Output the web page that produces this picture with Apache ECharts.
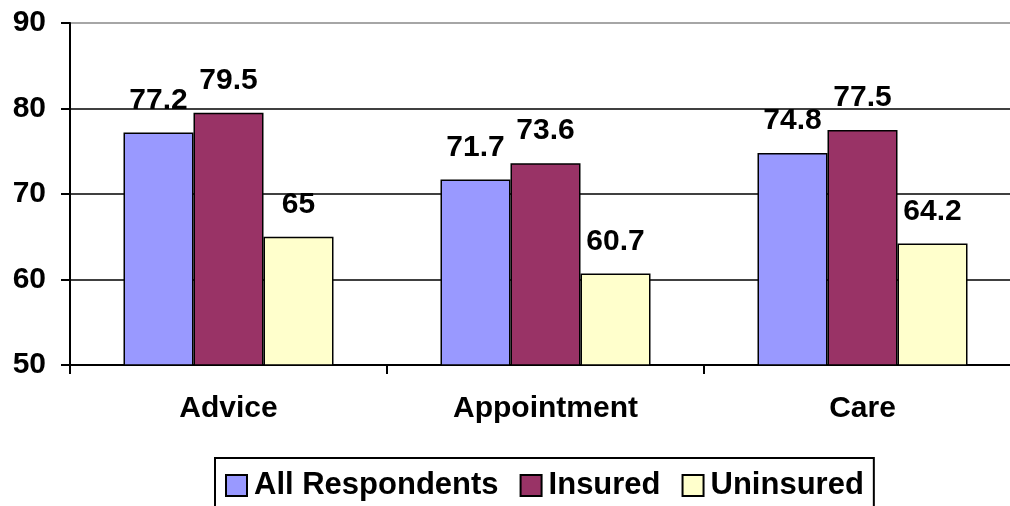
<!DOCTYPE html>
<html>
<head>
<meta charset="utf-8">
<script src="https://cdn.jsdelivr.net/npm/echarts@6/dist/echarts.min.js"></script>
<style>
  html, body { margin: 0; padding: 0; background: #fff; }
  #chart { width: 1010px; height: 506px; }
</style>
</head>
<body>
<div id="chart"></div>
<script>
const categories = ["Advice", "Appointment", "Care"];
const allRespondents = [77.2, 71.7, 74.8];
const insured = [79.5, 73.6, 77.5];
const uninsured = [65, 60.7, 64.2];

const font = "'Liberation Sans', Arial, sans-serif";

function barSeries(name, data, color) {
    return {
        name: name,
        type: "bar",
        data: data,
        barWidth: 70,
        barGap: "0%",
        itemStyle: { color: color, borderColor: "#000", borderWidth: 1.5 },
        label: {
            show: true,
            position: "top",
            distance: 17,
            color: "#000",
            fontFamily: font,
            fontWeight: "bold",
            fontSize: 30
        }
    };
}

let chart = echarts.init(document.getElementById("chart"));
chart.setOption({
    animation: false,
    grid: { left: 70, top: 23, width: 951, height: 342, outerBoundsMode: "none" },
    legend: {
        left: 215,
        top: 458,
        padding: [12, 10, 30, 10],
        itemGap: 21,
        itemWidth: 21,
        itemHeight: 21,
        borderColor: "#000",
        borderWidth: 2,
        icon: "rect",
        itemStyle: { borderColor: "#000", borderWidth: 2 },
        textStyle: { color: "#000", fontFamily: font, fontWeight: "bold", fontSize: 31, padding: [0, 0, 0, 2] },
        data: ["All Respondents", "Insured", "Uninsured"]
    },
    xAxis: {
        type: "category",
        data: categories,
        axisLine: { lineStyle: { color: "#000", width: 2 } },
        axisTick: { show: true, length: 9, lineStyle: { color: "#000", width: 2 } },
        axisLabel: { margin: 29, color: "#000", fontFamily: font, fontWeight: "bold", fontSize: 30 }
    },
    yAxis: {
        type: "value",
        min: 50,
        max: 90,
        interval: 10,
        axisLine: { show: true, lineStyle: { color: "#000", width: 2 } },
        axisTick: { show: true, length: 9, lineStyle: { color: "#000", width: 2 } },
        axisLabel: { margin: 24, color: "#000", fontFamily: font, fontWeight: "bold", fontSize: 30 },
        splitLine: { show: true, lineStyle: { color: ["#000", "#000", "#000", "#000", "#888"], width: 1.5 } }
    },
    series: [
        barSeries("All Respondents", allRespondents, "#9999FF"),
        barSeries("Insured", insured, "#993366"),
        barSeries("Uninsured", uninsured, "#FFFFCC")
    ]
});
</script>
</body>
</html>
